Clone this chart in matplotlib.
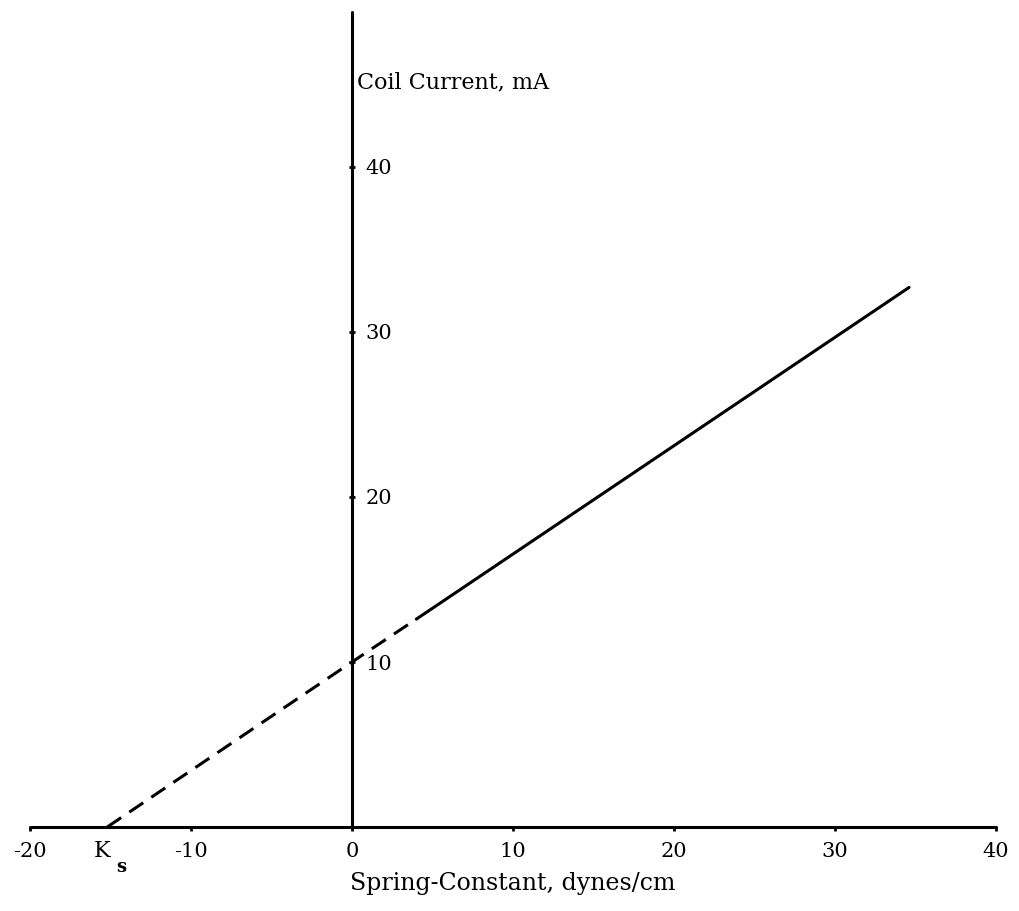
import matplotlib
matplotlib.use("Agg")
import matplotlib.pyplot as plt

# Coil current vs. spring constant (linear relation, extrapolated to K_s)
x_ticks = [-20, -10, 0, 10, 20, 30, 40]
x_tick_labels = ["-20", "-10", "0", "10", "20", "30", "40"]
y_ticks = [10, 20, 30, 40]
y_tick_labels = ["10", "20", "30", "40"]

ks_value = -15.2            # spring constant where the coil current vanishes
dashed_k = [-15.2, 0.0, 4.0]   # extrapolated part of the line
dashed_i = [0.0, 10.0, 12.6]
solid_k = [4.0, 34.6]          # measured part of the line
solid_i = [12.6, 32.7]

x_label = "Spring-Constant, dynes/cm"
y_label = "Coil Current, mA"

FONT = "DejaVu Serif"
plt.rcParams["font.family"] = [FONT]

fig = plt.figure(figsize=(10.2, 9.11), dpi=100)
ax = fig.add_axes([0, 0, 1, 1])
ax.set_xlim(-21.86, 41.49)
ax.set_ylim(-5.09, 50.12)

lw = 2.2
ax.plot(dashed_k, dashed_i, color="black", lw=lw, linestyle=(0, (5.5, 3.2)),
        solid_capstyle="butt", dash_capstyle="butt")
ax.plot(solid_k, solid_i, color="black", lw=lw, solid_capstyle="round")

# axes crossing at the origin
for side in ("top", "left"):
    ax.spines[side].set_visible(False)
ax.spines["bottom"].set_position(("data", 0))
ax.spines["right"].set_position(("data", 0))
ax.spines["bottom"].set_bounds(-20, 40)
ax.spines["right"].set_bounds(0, 49.4)
for side in ("bottom", "right"):
    ax.spines[side].set_linewidth(lw)
    ax.spines[side].set_capstyle("round")

ax.yaxis.set_ticks_position("right")
ax.set_xticks(x_ticks)
ax.set_xticklabels(x_tick_labels)
ax.set_yticks(y_ticks)
ax.set_yticklabels(y_tick_labels)
ax.tick_params(axis="x", direction="out", length=3, width=2, pad=8,
               labelsize=15)
ax.tick_params(axis="y", direction="inout", length=5, width=2, pad=7,
               labelsize=15)

ax.text(-15.5, -1.45, "K", fontsize=16, ha="center", va="center")
ax.text(-14.35, -2.45, "s", fontsize=13, ha="center", va="center",
        fontweight="bold")

ax.text(0.3, 45.1, y_label, fontsize=16, ha="left", va="center")
ax.text(10.0, -3.45, x_label, fontsize=17, ha="center", va="center")

fig.savefig("out.png", dpi=100)
